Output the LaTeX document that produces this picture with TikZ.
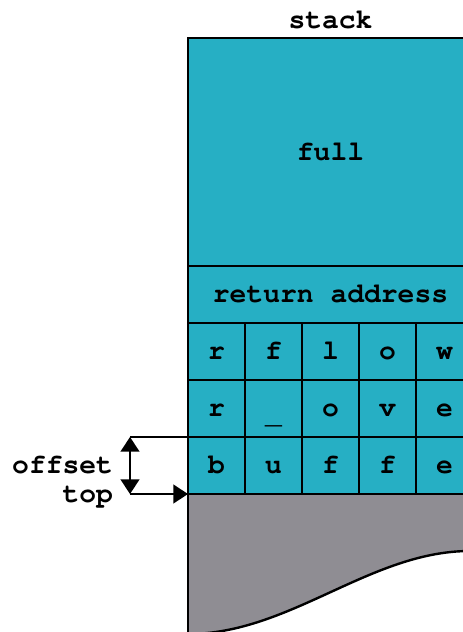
\documentclass[tikz,border=0pt]{standalone}
\usepackage{fontspec}
\setmonofont{TeX Gyre Cursor}[Ligatures={NoCommon}]
\usetikzlibrary{arrows.meta}
\definecolor{cellteal}{RGB}{38,175,196}
\definecolor{heapgray}{RGB}{143,141,147}
\tikzset{
  lbl/.style={font=\fontsize{21}{25}\selectfont\ttfamily\bfseries, inner sep=0pt, outer sep=0pt},
  cell/.style={lbl, draw=black, line width=1.8pt, fill=cellteal,
    minimum width=42.75pt, minimum height=42.75pt, text height=12.6pt, text depth=0pt},
  wide/.style={cell, minimum width=213.75pt},
  tip/.style={-{Triangle[length=11pt,width=14pt]}},
  dtip/.style={{Triangle[length=11pt,width=14pt]}-{Triangle[length=11pt,width=14pt]}},
  conn/.style={line width=1.8pt, draw=black}
}
\begin{document}
\begin{tikzpicture}[x=0.75pt,y=-0.75pt]
\useasboundingbox (0,0) rectangle (463,632);
\clip (0,0) rectangle (463,632);
% heap (gray) region
\fill[heapgray] (188,494) -- (480,494) -- (480,551) -- (470,551)
  .. controls (370,551) and (290,634) .. (188,634) -- cycle;
\draw[conn] (470,551) .. controls (370,551) and (290,634) .. (188,634);
\draw[conn] (188,494) -- (188,640);
% title
\node[lbl] (title) at (330.5,20) {stack};
% full and return address
\node[wide, minimum height=171pt] (full) at (330.5,152) {full};
\node[wide] (ret) at (330.5,294.5) {return address};
% rows
\node[cell] (c11) at (216.5,351.5) {r};
\node[cell] (c12) at (273.5,351.5) {f};
\node[cell] (c13) at (330.5,351.5) {l};
\node[cell] (c14) at (387.5,351.5) {o};
\node[cell] (c15) at (444.5,351.5) {w};
\node[cell] (c21) at (216.5,408.5) {r};
\node[cell] (c22) at (273.5,408.5) {\raisebox{-5pt}{\symbol{95}}};
\node[cell] (c23) at (330.5,408.5) {o};
\node[cell] (c24) at (387.5,408.5) {v};
\node[cell] (c25) at (444.5,408.5) {e};
\node[cell] (c31) at (216.5,465.5) {b};
\node[cell] (c32) at (273.5,465.5) {u};
\node[cell] (c33) at (330.5,465.5) {f};
\node[cell] (c34) at (387.5,465.5) {f};
\node[cell] (c35) at (444.5,465.5) {e};
% labels
\node[lbl, anchor=base east] (offset) at (113,473) {offset};
\node[lbl, anchor=base east] (top) at (113,502) {top};
\coordinate (a1) at (130,437);
\coordinate (a2) at (130,494);
\draw[conn] (a1) -- (c31.north west);
\draw[conn, tip] (a2) -- (c31.south west);
\draw[conn, dtip] (a1) -- (a2);
\end{tikzpicture}
\end{document}
